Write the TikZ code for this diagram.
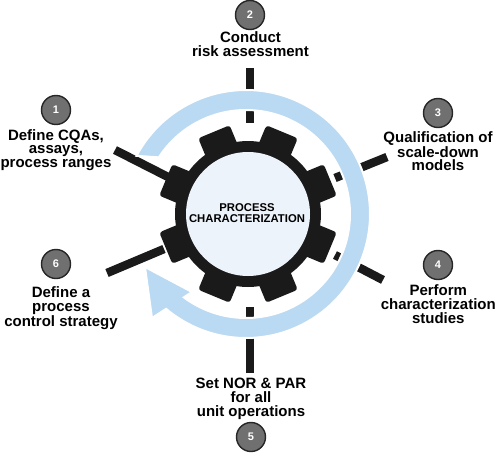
\documentclass[tikz,border=0pt]{standalone}
\usepackage{fontspec}
\setmainfont{Liberation Sans}
\definecolor{ringblue}{RGB}{186,217,242}
\definecolor{gearblk}{RGB}{26,26,26}
\definecolor{innerc}{RGB}{237,243,250}
\definecolor{numgray}{RGB}{112,112,112}
\begin{document}
\begin{tikzpicture}[x=1pt,y=-1pt,
  lbl/.style={font=\fontsize{15}{13.7}\selectfont\bfseries, align=center, inner sep=0pt, text=black, anchor=base},
  numc/.style={circle, fill=numgray, draw=black!85, line width=1.4pt, minimum size=29pt, inner sep=0pt, text=white, font=\fontsize{11}{12}\selectfont\bfseries},
  conn/.style={draw=gearblk, line width=8.5pt},
  ctr/.style={font=\fontsize{11.3}{11.7}\selectfont\bfseries, align=center, inner sep=0pt, text=black}]
\useasboundingbox (0,0) rectangle (498,453);

% connector end points
\coordinate (G) at (248,214);
\coordinate (l1o) at (115,150); \coordinate (l1i) at (172,179);
\coordinate (l2o) at (250,68);  \coordinate (l2i) at (250,123);
\coordinate (l3o) at (387,157); \coordinate (l3i) at (335,178);
\coordinate (l4o) at (383,280); \coordinate (l4i) at (335,255);
\coordinate (l5o) at (250,373); \coordinate (l5i) at (250,307);
\coordinate (l6o) at (107,273); \coordinate (l6i) at (164,249);

\draw[conn] (l1o) -- (l1i);
\draw[conn] (l2o) -- (l2i);
\draw[conn] (l3o) -- (l3i);
\draw[conn] (l4o) -- (l4i);
\draw[conn] (l5o) -- (l5i);
\draw[conn] (l6o) -- (l6i);

% cycle arrow
\filldraw[fill=ringblue, draw=white, line width=2pt, line join=miter]
  plot[domain=152:-130.12, samples=160] ({246+124*cos(\x)},{214-124*sin(\x)})
  -- (152,318) -- (145,267) -- (192,292)
  -- plot[domain=-126.74:147, samples=160] ({246+104*cos(\x)},{214-104*sin(\x)})
  -- cycle;

% gear
\begin{scope}[shift={(G)}]
  \foreach \a in {22.5,67.5,...,337.5}
    \fill[gearblk, rotate=\a, rounded corners=3pt] (55,-17) rectangle (89,17);
  \fill[gearblk] (0,0) circle[radius=73];
  \fill[innerc] (0,0) circle[radius=62];
\end{scope}
\node[ctr] (ctext) at (247,213) {PROCESS\\CHARACTERIZATION};

% numbers
\node[numc] (n1) at (56,110) {1};
\node[numc] (n2) at (250,15) {2};
\node[numc] (n3) at (438,113) {3};
\node[numc] (n4) at (438,265) {4};
\node[numc] (n5) at (251,437) {5};
\node[numc] (n6) at (56,264) {6};

% labels (anchor = baseline of last line)
\node[lbl] (t1) at (56,167.5) {Define CQAs,\\assays,\\process ranges};
\node[lbl] (t2) at (250.5,56) {Conduct\\risk assessment};
\node[lbl] (t3) at (438,170.7) {Qualification of\\scale-down\\models};
\node[lbl] (t4) at (438.3,323) {Perform\\characterization\\studies};
\node[lbl] (t5) at (251,416) {Set NOR \& PAR\\for all\\unit operations};
\node[lbl] (t6) at (61,326) {Define a\\process\\control strategy};
\end{tikzpicture}
\end{document}
